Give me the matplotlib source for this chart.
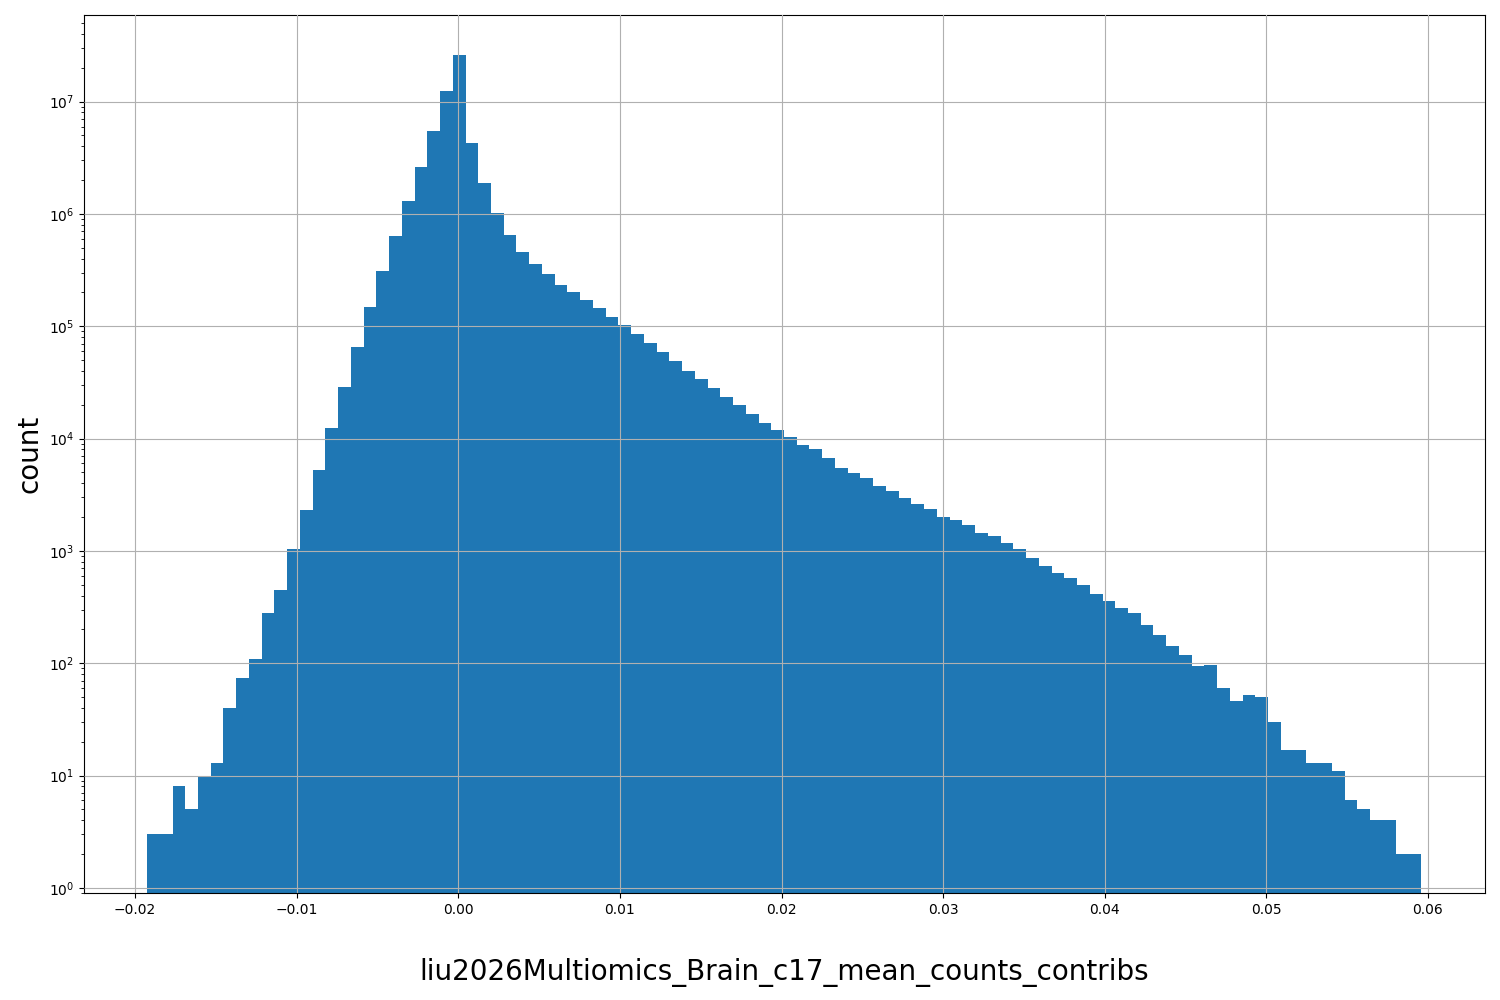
import numpy as np
import matplotlib
matplotlib.use("Agg")
import matplotlib.pyplot as plt

x_min = -0.01926
x_max = 0.05957
counts = [3, 3, 8, 5, 10, 13, 40, 74, 108, 280,
          450, 1030, 2300, 5300, 12500, 29000, 66000, 148000, 310000, 640000,
          1.3e6, 2.6e6, 5.5e6, 1.25e7, 2.6e7, 4.3e6, 1.9e6, 1.02e6, 650000, 460000,
          360000, 290000, 235000, 200000, 170000, 145000, 122000, 102000, 85000, 71000,
          59000, 49000, 40000, 34000, 28000, 23500, 20000, 16500, 13800, 12000,
          10400, 8800, 8000, 6700, 5500, 4900, 4500, 3800, 3400, 2950,
          2600, 2350, 2000, 1880, 1700, 1440, 1350, 1170, 1040, 860,
          740, 630, 570, 495, 410, 355, 310, 280, 218, 180,
          142, 118, 94, 96, 60, 46, 52, 50, 30, 17,
          17, 13, 13, 11, 6, 5, 4, 4, 2, 2]

edges = np.linspace(x_min, x_max, len(counts) + 1)

fig = plt.figure(figsize=(15, 10), dpi=100)
ax = fig.add_axes([0.056, 0.107, 0.934, 0.878])
ax.hist(edges[:-1], bins=edges, weights=counts, color='#1f77b4', log=True)
ax.set_yscale('log')
ax.set_xlim(-0.02316, 0.06353)
ax.set_ylim(0.9, 5.9e7)
ax.grid(True)
ax.set_axisbelow(False)
ax.set_xlabel('liu2026Multiomics_Brain_c17_mean_counts_contribs', fontsize=20, labelpad=30)
ax.set_ylabel('count', fontsize=20)
fig.savefig('out.png')
